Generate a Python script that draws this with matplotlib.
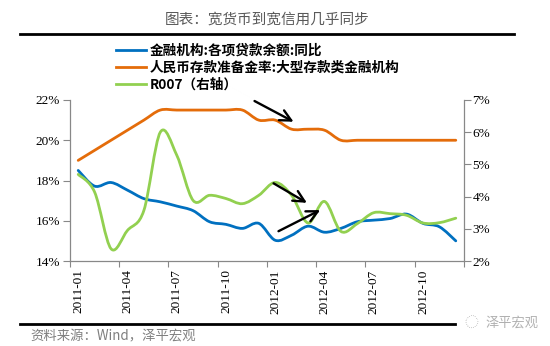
import numpy as np
import matplotlib
matplotlib.use("Agg")
import matplotlib.pyplot as plt
from matplotlib.path import Path
from matplotlib.patches import PathPatch
from matplotlib.lines import Line2D

# ---------------- data ----------------
months = ['2011-01', '2011-02', '2011-03', '2011-04', '2011-05', '2011-06',
          '2011-07', '2011-08', '2011-09', '2011-10', '2011-11', '2011-12',
          '2012-01', '2012-02', '2012-03', '2012-04', '2012-05', '2012-06',
          '2012-07', '2012-08', '2012-09', '2012-10', '2012-11', '2012-12']
tick_labels = ['2011-01', '2011-04', '2011-07', '2011-10',
               '2012-01', '2012-04', '2012-07', '2012-10']
loan_growth = [18.5, 17.72, 17.9, 17.52, 17.1, 16.94, 16.73, 16.5, 15.95, 15.82,
               15.62, 15.87, 15.03, 15.28, 15.73, 15.43, 15.62, 15.95, 16.03, 16.11,
               16.33, 15.87, 15.7, 15.0]
rrr_large = [19.0, 19.5, 20.0, 20.5, 21.0, 21.5, 21.5, 21.5, 21.5, 21.5,
             21.5, 21.0, 21.0, 20.55, 20.55, 20.5, 20.0, 20.0, 20.0, 20.0,
             20.0, 20.0, 20.0, 20.0]
r007 = [4.69, 4.14, 2.38, 2.95, 3.57, 6.0, 5.29, 3.88, 4.04, 3.94,
        3.78, 4.04, 4.44, 4.04, 3.18, 3.85, 2.92, 3.16, 3.5, 3.47,
        3.42, 3.18, 3.19, 3.33]
series_names = ['金融机构:各项贷款余额:同比', '人民币存款准备金率:大型存款类金融机构', 'R007（右轴）']

C_BLUE = '#0070C0'
C_ORANGE = '#E46C0A'
C_GREEN = '#92D050'
CJK = ['Noto Sans CJK SC', 'DejaVu Sans']
SERIF = 'Liberation Serif'


def smooth_path(xs, ys):
    """Excel-like smoothed line: cubic Bezier through the data points."""
    xs = np.asarray(xs, float)
    ys = np.asarray(ys, float)
    pts = np.column_stack([xs, ys])
    n = len(pts)
    verts = [pts[0]]
    codes = [Path.MOVETO]
    for i in range(n - 1):
        p0 = pts[i - 1] if i > 0 else pts[i]
        p1 = pts[i]
        p2 = pts[i + 1]
        p3 = pts[i + 2] if i + 2 < n else pts[i + 1]
        c1 = p1 + (p2 - p0) / 6.0
        c2 = p2 - (p3 - p1) / 6.0
        verts += [c1, c2, p2]
        codes += [Path.CURVE4] * 3
    return Path(verts, codes)


fig = plt.figure(figsize=(5.5, 3.46), dpi=100)
fig.patch.set_facecolor('white')

L, R, B, T = 70 / 550, 464 / 550, 85 / 346, 246 / 346
ax = fig.add_axes([L, B, R - L, T - B])
ax2 = ax.twinx()

x = np.arange(len(months))

ax.add_patch(PathPatch(smooth_path(x, loan_growth), fill=False, edgecolor=C_BLUE,
                       lw=2.0, capstyle='round', joinstyle='round', zorder=3))
ax.add_patch(PathPatch(smooth_path(x, rrr_large), fill=False, edgecolor=C_ORANGE,
                       lw=2.0, capstyle='round', joinstyle='round', zorder=3))
ax2.add_patch(PathPatch(smooth_path(x, r007), fill=False, edgecolor=C_GREEN,
                        lw=2.0, capstyle='round', joinstyle='round', zorder=3))

ax.set_xlim(-0.5, len(months) - 0.5)
ax.set_ylim(14, 22)
ax2.set_ylim(2, 7)

ax.set_yticks([14, 16, 18, 20, 22])
ax.set_yticklabels([f'{v}%' for v in [14, 16, 18, 20, 22]], fontfamily=SERIF, fontsize=9.5)
ax2.set_yticks([2, 3, 4, 5, 6, 7])
ax2.set_yticklabels([f'{v}%' for v in [2, 3, 4, 5, 6, 7]], fontfamily=SERIF, fontsize=9.5)

# category axis: tick marks between categories, labels on categories
ax.set_xticks(np.arange(-0.5, len(months), 3))
ax.set_xticklabels([])
ax.set_xticks([months.index(t) for t in tick_labels], minor=True)
ax.set_xticklabels(tick_labels, minor=True, rotation=90, fontfamily=SERIF, fontsize=9.5)
ax.tick_params(axis='x', which='major', length=4, width=0.8, color='#888888')
ax.tick_params(axis='x', which='minor', length=0, pad=6)
ax.tick_params(axis='y', length=5, width=0.8, color='#888888', pad=2)
ax2.tick_params(axis='y', length=5, width=0.8, color='#888888', pad=1)

for a in (ax, ax2):
    a.spines['top'].set_visible(False)
    for s in ('left', 'right', 'bottom'):
        a.spines[s].set_color('#888888')
        a.spines[s].set_linewidth(0.9)
ax.spines['right'].set_visible(False)
ax2.spines['left'].set_visible(False)
ax2.spines['bottom'].set_visible(False)

# arrows (in left-axis data coordinates)
arrows = [((10.74, 21.95), (13.12, 20.92)),
          ((11.9, 17.86), (13.93, 16.89)),
          ((12.2, 15.48), (14.74, 16.53))]
for start, end in arrows:
    ax2.annotate('', xy=end, xytext=start, xycoords=ax.transData, textcoords=ax.transData,
                 arrowprops=dict(arrowstyle='->,head_length=0.8,head_width=0.4',
                                 color='black', lw=1.7, shrinkA=0, shrinkB=0),
                 zorder=5)

# legend
handles = [Line2D([], [], color=c, lw=2.0) for c in (C_BLUE, C_ORANGE, C_GREEN)]
leg = fig.legend(handles, series_names, loc='upper left',
                 bbox_to_anchor=(116 / 550, 1 - 44 / 346), frameon=False,
                 prop={'family': CJK, 'size': 9.8, 'weight': 'bold'},
                 handlelength=2.2, handletextpad=0.25, labelspacing=0.2,
                 borderpad=0, borderaxespad=0)

# title and rules
fig.text(267 / 550, 1 - 20 / 346, '图表：宽货币到宽信用几乎同步', ha='center', va='center',
         fontsize=10.5, color='#595959', family=CJK)
fig.add_artist(Line2D([20 / 550, 514 / 550], [1 - 34 / 346, 1 - 34 / 346],
                      color='black', lw=2.0, transform=fig.transFigure))
fig.add_artist(Line2D([20 / 550, 455 / 550], [1 - 324 / 346, 1 - 324 / 346],
                      color='black', lw=2.0, transform=fig.transFigure))
fig.text(30 / 550, 1 - 336 / 346, '资料来源：Wind，泽平宏观', ha='left', va='center',
         fontsize=9.6, color='#7f7f7f', family=CJK, style='italic')
fig.text(512 / 550, 1 - 323 / 346, '泽平宏观', ha='center', va='center',
         fontsize=9.5, color='#b0b0b0', family=CJK)
fig.text(471 / 550, 1 - 323 / 346, '◌', ha='center', va='center',
         fontsize=10, color='#c0c0c0', family=CJK)

fig.savefig('out.png', dpi=100, facecolor='white')
